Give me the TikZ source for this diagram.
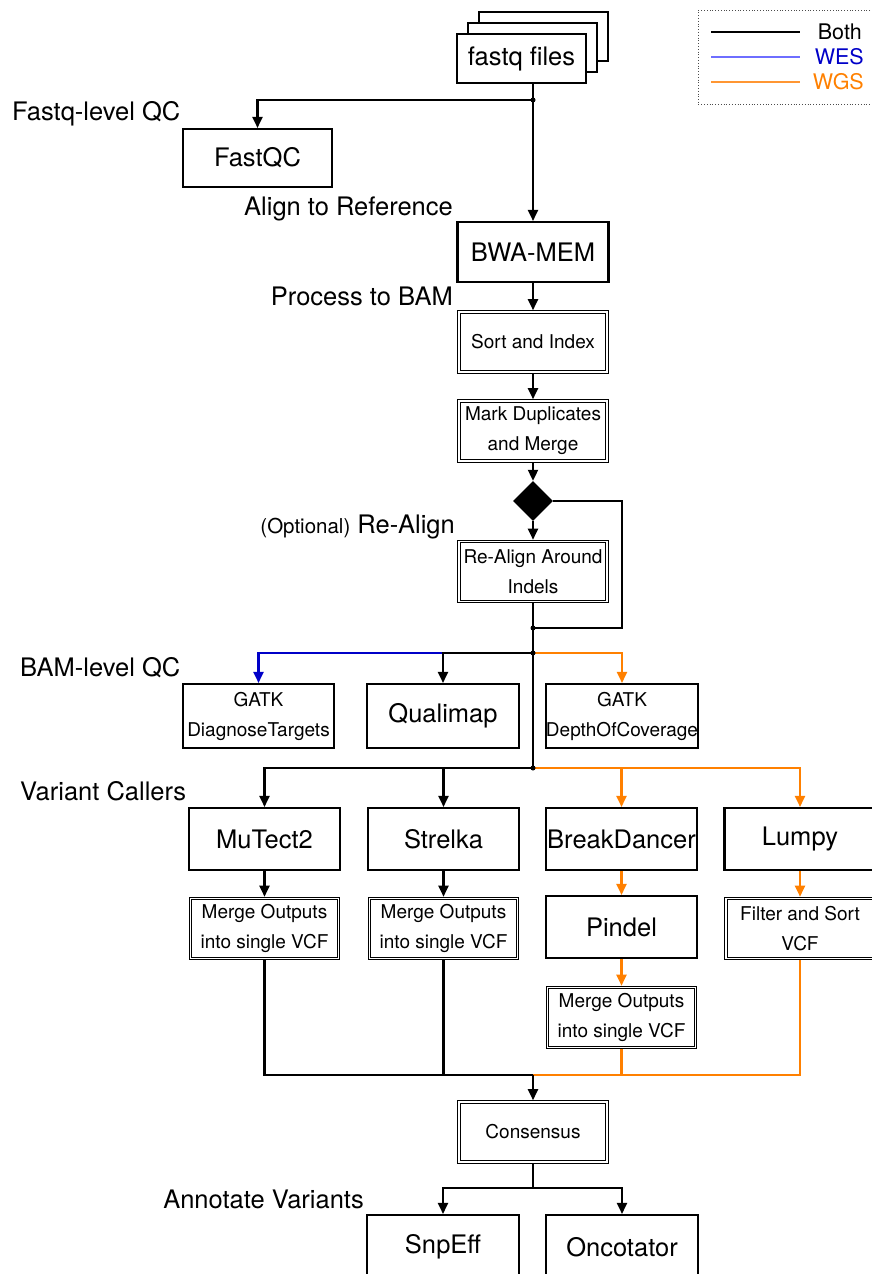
\documentclass[tikz,border=0pt]{standalone}
\usepackage{fontspec}
\setmainfont{TeX Gyre Heros}
\usetikzlibrary{arrows.meta,shapes.geometric}
\definecolor{wesblue}{RGB}{0,0,200}
\definecolor{wgsorange}{RGB}{255,128,0}
\definecolor{legblue}{RGB}{110,110,255}
\definecolor{legorange}{RGB}{255,150,50}
\newcommand{\bigf}{\fontsize{25.5}{30}\selectfont}
\newcommand{\smallf}{\fontsize{19}{30}\selectfont}
\newcommand{\optf}{\fontsize{20.5}{24}\selectfont}
\newcommand{\legf}{\fontsize{21.5}{24}\selectfont}
\begin{document}
\begin{tikzpicture}[x=1pt,y=-1pt,
 box/.style={draw,line width=2.1pt,fill=white,inner sep=0pt,minimum width=151pt,minimum height=60pt,align=center,font=\bigf},
 dbox/.style={draw,line width=0.9pt,double,double distance=1.8pt,fill=white,inner sep=0pt,outer sep=1.8pt,minimum width=148pt,minimum height=60pt,align=center,font=\smallf},
 sbox/.style={box,font=\smallf},
 lab/.style={font=\bigf,inner sep=0pt},
 conn/.style={line width=2.1pt},
 arr/.style={conn,-{Triangle[width=10pt,length=11pt]}},
 jdot/.style={circle,fill,inner sep=0pt,minimum size=5pt}
]
\useasboundingbox (0,0) rectangle (871,1274);

% legend
\node[draw,dotted,line width=0.8pt,draw=black!70,minimum width=190pt,minimum height=94pt,anchor=north west,inner sep=0pt] (leg) at (698,10) {};
\coordinate (la1) at (711,32); \coordinate (lb1) at (800,32);
\coordinate (la2) at (711,57); \coordinate (lb2) at (800,57);
\coordinate (la3) at (711,82); \coordinate (lb3) at (800,82);
\draw[line width=2.4pt] (la1) -- (lb1);
\draw[line width=2.4pt,legblue] (la2) -- (lb2);
\draw[line width=2.4pt,legorange] (la3) -- (lb3);
\node[anchor=east,font=\legf,inner sep=0pt] (tboth) at (862,32) {Both};
\node[anchor=east,font=\legf,inner sep=0pt,text=wesblue] (twes) at (864,57) {WES};
\node[anchor=east,font=\legf,inner sep=0pt,text=wgsorange] (twgs) at (864,82) {WGS};

% fastq stack
\node[box,minimum width=129pt,minimum height=49pt] (fq3) at (543.5,36.5) {};
\node[box,minimum width=129pt,minimum height=49pt] (fq2) at (532.5,47.5) {};
\node[box,minimum width=129pt,minimum height=49pt] (fq) at (521.5,58.5) {fastq files};

% nodes
\node[box,minimum width=149pt,minimum height=58pt] (fastqc) at (257.5,158) {FastQC};
\node[box,minimum width=151pt,minimum height=60pt] (bwa) at (533,252) {BWA-MEM};
\node[dbox] (sort) at (533,342) {Sort and Index};
\node[dbox] (mark) at (533,431) {Mark Duplicates\\and Merge};
\node[diamond,fill=black,inner sep=0pt,minimum width=40pt,minimum height=40pt] (dia) at (533,501) {};
\node[dbox] (realign) at (533,571.5) {Re-Align Around\\Indels};

\node[sbox,minimum width=151pt,minimum height=64pt] (diag) at (258.5,716) {GATK\\DiagnoseTargets};
\node[box,minimum width=152pt,minimum height=64pt] (qmap) at (443,716) {Qualimap};
\node[sbox,minimum width=152pt,minimum height=64pt] (doc) at (622,716) {GATK\\DepthOfCoverage};

\node[box,minimum height=62pt] (mutect) at (264.5,839) {MuTect2};
\node[box,minimum height=62pt] (strelka) at (443.5,839) {Strelka};
\node[box,minimum height=62pt] (bd) at (621.5,839) {BreakDancer};
\node[box,minimum height=62pt] (lumpy) at (800,839) {Lumpy};

\node[dbox] (m1) at (264.5,928.5) {Merge Outputs\\into single VCF};
\node[dbox] (m2) at (443.5,928.5) {Merge Outputs\\into single VCF};
\node[box,minimum height=62pt] (pindel) at (621.5,927) {Pindel};
\node[dbox] (filt) at (800,928.5) {Filter and Sort\\VCF};
\node[dbox] (pm) at (621.5,1017.5) {Merge Outputs\\into single VCF};

\node[dbox] (cons) at (533,1132) {Consensus};
\node[box,minimum width=152pt,minimum height=64pt] (snp) at (443,1247) {SnpEff};
\node[box,minimum width=152pt,minimum height=64pt] (onco) at (622,1247) {Oncotator};

% side labels
\node[lab,anchor=base west] (lfq) at (12,120) {Fastq-level QC};
\node[lab,anchor=base east] (lal) at (453,215) {Align to Reference};
\node[lab,anchor=base east] (lpr) at (453,305) {Process to BAM};
\node[lab,anchor=base east] (lre) at (455,533) {{\optf (Optional)} Re-Align};
\node[lab,anchor=base west] (lbam) at (20,676) {BAM-level QC};
\node[lab,anchor=base west] (lvc) at (20,800) {Variant Callers};
\node[lab,anchor=base east] (lan) at (364,1208) {Annotate Variants};

% junctions
\coordinate (j1) at (533,100);
\coordinate (j2) at (533,628);
\coordinate (loop) at (622,628);
\coordinate (j3) at (533,653);
\coordinate (j4) at (533,768);
\coordinate (j5) at (533,1075);
\coordinate (j6) at (533,1188);

% connectors
\draw[conn] (fq.south -| j1) -- (j1);
\draw[arr] (j1) -| (fastqc.north);
\draw[arr] (j1) -- (bwa.north);
\draw[arr] (bwa) -- (sort);
\draw[arr] (sort) -- (mark);
\draw[arr] (mark) -- (dia);
\draw[arr] (dia) -- (realign);
\draw[conn] (dia.east) -| (loop) -- (j2);
\draw[conn] (realign.south) -- (j4);

\draw[arr,wesblue] (j3 -| qmap) -| (diag.north);
\draw[arr,wgsorange] (j3) -| (doc.north);
\draw[arr] (j3) -| (qmap.north);

\draw[arr,wgsorange] (j4) -| (lumpy.north);
\draw[arr,wgsorange] (j4) -| (bd.north);
\draw[arr] (j4) -| (mutect.north);
\draw[arr] (j4) -| (strelka.north);

\draw[arr] (mutect) -- (m1);
\draw[arr] (strelka) -- (m2);
\draw[arr,wgsorange] (bd) -- (pindel);
\draw[arr,wgsorange] (pindel) -- (pm);
\draw[arr,wgsorange] (lumpy) -- (filt);

\draw[conn,wgsorange] (filt.south) |- (j5);
\draw[conn,wgsorange] (pm.south) |- (j5);
\draw[conn] (m1.south) |- (j5);
\draw[conn] (m2.south) |- (j5);
\draw[arr] (j5) -- (cons.north);
\draw[conn] (cons.south) -- (j6);
\draw[arr] (j6) -| (snp.north);
\draw[arr] (j6) -| (onco.north);

% dots
\node[jdot] (d1) at (j1) {};
\node[jdot] (d2) at (j2) {};
\node[jdot] (d3) at (j3) {};
\node[jdot] (d4) at (j4) {};
\end{tikzpicture}
\end{document}
